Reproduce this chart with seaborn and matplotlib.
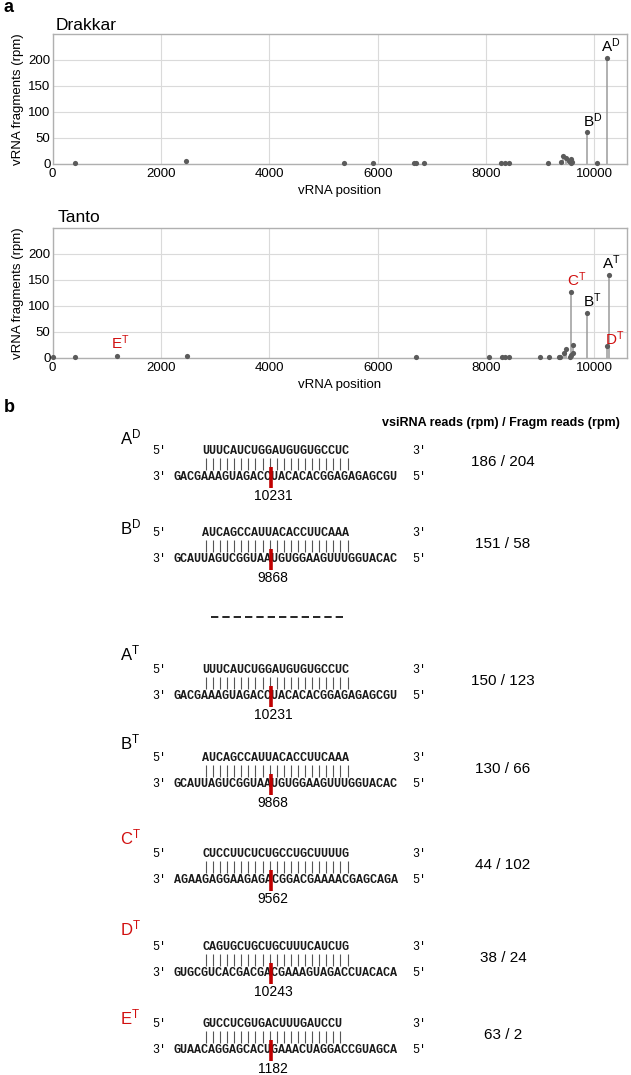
import matplotlib
matplotlib.use('Agg')
import matplotlib.pyplot as plt
import seaborn as sns
import pandas as pd

# ---- panel a: vRNA fragments along the genome ----
drakkar_pos = [410, 2460, 5375, 5905, 6670, 6700, 6860, 8280, 8350, 8415, 9150,
               9390, 9420, 9480, 9530, 9570, 9575, 9590, 9868, 10055, 10231]
drakkar_rpm = [1, 5, 1, 1, 1, 1, 1, 1, 1, 1, 1,
               4, 16, 11, 6, 9, 1, 4, 61, 1, 204]

tanto_pos = [0, 420, 1182, 2476, 6713, 8056, 8294, 8357, 8420, 8995, 9170,
             9350, 9361, 9431, 9481, 9555, 9562, 9565, 9606, 9610, 9868, 10225, 10270]
tanto_rpm = [1, 1, 3, 3, 1, 1, 1, 1, 1, 1, 1,
             1, 1, 10, 18, 2, 126, 5, 25, 10, 86, 24, 160]

drakkar_peaks = ['A', 'B']
drakkar_peak_pos = [10231, 9868]
tanto_peaks = ['A', 'B', 'C', 'D', 'E']
tanto_peak_pos = [10270, 9868, 9562, 10225, 1182]
tanto_peak_new = [False, False, True, True, True]

x_ticks = [0, 2000, 4000, 6000, 8000, 10000]
y_ticks = [0, 50, 100, 150, 200]

# ---- panel b: cleavage sites ----
site_names = ['A', 'B', 'A', 'B', 'C', 'D', 'E']
site_virus = ['D', 'D', 'T', 'T', 'T', 'T', 'T']
site_new = [False, False, False, False, True, True, True]
vsirna_seq = ['UUUCAUCUGGAUGUGUGCCUC', 'AUCAGCCAUUACACCUUCAAA',
              'UUUCAUCUGGAUGUGUGCCUC', 'AUCAGCCAUUACACCUUCAAA',
              'CUCCUUCUCUGCCUGCUUUUG', 'CAGUGCUGCUGCUUUCAUCUG',
              'GUCCUCGUGACUUUGAUCCU']
target_seq = ['GACGAAAGUAGACCUACACACGGAGAGAGCGU', 'GCAUUAGUCGGUAAUGUGGAAGUUUGGUACAC',
              'GACGAAAGUAGACCUACACACGGAGAGAGCGU', 'GCAUUAGUCGGUAAUGUGGAAGUUUGGUACAC',
              'AGAAGAGGAAGAGACGGACGAAAACGAGCAGA', 'GUGCGUCACGACGACGAAAGUAGACCUACACA',
              'GUAACAGGAGCACUGAAACUAGGACCGUAGCA']
cleavage_pos = [10231, 9868, 10231, 9868, 9562, 10243, 1182]
cut_index = [14, 14, 14, 14, 14, 14, 14]
vsirna_rpm = [186, 151, 150, 130, 44, 38, 63]
fragm_rpm = [204, 58, 123, 66, 102, 24, 2]

# layout (pixels)
W, H, DPI = 631, 1075, 100
row_top = [451, 533, 670, 758, 854, 947, 1024]
label_y = [437, 527, 653, 742, 837, 928, 1017]
RED = '#d10f0f'
BAR_RED = '#c00000'

sns.set_theme(style='whitegrid')
plt.rcParams['font.family'] = ['Liberation Sans', 'DejaVu Sans']
plt.rcParams['mathtext.default'] = 'regular'
plt.rcParams['text.color'] = 'black'
plt.rcParams['axes.labelcolor'] = 'black'
plt.rcParams['xtick.color'] = 'black'
plt.rcParams['ytick.color'] = 'black'

fig = plt.figure(figsize=(W / DPI, H / DPI), dpi=DPI)

# full figure canvas in pixel coordinates for panel b and free text
axb = fig.add_axes([0, 0, 1, 1])
axb.set_xlim(0, W)
axb.set_ylim(H, 0)
axb.set_axis_off()


def px_axes(left, top, right, bottom):
    return [left / W, 1 - bottom / H, (right - left) / W, (bottom - top) / H]


def lollipop(ax, pos, rpm, peaks, peak_pos, peak_new, virus, offsets):
    df = pd.DataFrame({'position': pos, 'rpm': rpm})
    ax.vlines(df['position'], 0, df['rpm'], color='#9b9b9b', lw=1.1, zorder=2)
    sns.scatterplot(data=df, x='position', y='rpm', ax=ax, color='#5b5b5b',
                    s=14, linewidth=0, zorder=3, clip_on=False)
    ax.set_xlim(0, 10600)
    ax.set_ylim(0, 250)
    ax.set_xticks(x_ticks)
    ax.set_yticks(y_ticks)
    ax.tick_params(labelsize=9.5, length=0, pad=3)
    ax.tick_params(axis='y', pad=1.5)
    ax.grid(color='#dadada', lw=0.8)
    for sp in ax.spines.values():
        sp.set_visible(True)
        sp.set_color('#b0b0b0')
        sp.set_linewidth(1)
    ax.set_xlabel('vRNA position', fontsize=9.5)
    ax.set_ylabel('vRNA fragments (rpm)', fontsize=9.5)
    ax.xaxis.set_label_coords(0.5, -0.165)
    ax.yaxis.set_label_coords(-0.05, 0.5)
    for name, p, new in zip(peaks, peak_pos, peak_new):
        y = df.loc[df['position'] == p, 'rpm'].iloc[0]
        dx, dy = offsets[name]
        ax.annotate(f'{name}$^{{{virus}}}$', (p, y), xytext=(dx, dy),
                    textcoords='offset pixels', ha='center', va='center',
                    fontsize=11, color=RED if new else 'black')


ax1 = fig.add_axes(px_axes(52.5, 34, 627, 164))
lollipop(ax1, drakkar_pos, drakkar_rpm, drakkar_peaks, drakkar_peak_pos,
         [False, False], 'D', {'A': (4, 12), 'B': (5, 12)})

ax2 = fig.add_axes(px_axes(52.5, 228, 627, 358))
lollipop(ax2, tanto_pos, tanto_rpm, tanto_peaks, tanto_peak_pos,
         tanto_peak_new, 'T',
         {'A': (2, 12), 'B': (5, 13), 'C': (6, 13), 'D': (8, 7), 'E': (4, 14)})

axb.text(4, 8, 'a', fontsize=13, fontweight='bold', va='center')
axb.text(4, 408, 'b', fontsize=13, fontweight='bold', va='center')
axb.text(56, 25, 'Drakkar', fontsize=12.5, va='center')
axb.text(58, 218, 'Tanto', fontsize=12.5, va='center')
axb.text(501, 423, 'vsiRNA reads (rpm) / Fragm reads (rpm)', fontsize=9,
         fontweight='bold', ha='center', va='center')

mono = ['Liberation Mono', 'DejaVu Sans Mono']
seq_fs = 8.5
cw = 0.6 * seq_fs * DPI / 72
x_prime_l = 152.5
x_seq = 174
x_prime_r = 412
seq_kw = dict(family=mono, fontsize=seq_fs, fontweight='bold', va='center', color='#1a1a1a')
prime_kw = dict(family=mono, fontsize=seq_fs, va='center')

for i in range(len(site_names)):
    y0 = row_top[i]
    y1 = y0 + 26
    color = RED if site_new[i] else 'black'
    axb.text(120, label_y[i], f'{site_names[i]}$^{{{site_virus[i]}}}$',
             fontsize=12, color=color, va='center', ha='left')
    # vsiRNA strand
    axb.text(x_prime_l, y0, '5\u2032', **prime_kw)
    axb.text(x_seq + 4 * cw, y0, vsirna_seq[i], **seq_kw)
    axb.text(x_prime_r, y0, '3\u2032', **prime_kw)
    # base pairs
    xs = [x_seq + (4 + k + 0.5) * cw for k in range(len(vsirna_seq[i]))]
    axb.vlines(xs, y0 + 7, y0 + 19, color='#555555', lw=0.8)
    # target strand
    axb.text(x_prime_l, y1, '3\u2032', **prime_kw)
    axb.text(x_seq, y1, target_seq[i], **seq_kw)
    axb.text(x_prime_r, y1, '5\u2032', **prime_kw)
    # cleavage site
    xc = x_seq + (cut_index[i] - 0.3) * cw
    axb.vlines(xc, y0 + 16, y0 + 37, color=BAR_RED, lw=2.6, zorder=5)
    axb.text(xc + 2, y0 + 45, str(cleavage_pos[i]), fontsize=10,
             ha='center', va='center')
    axb.text(503, y0 + 11, f'{vsirna_rpm[i]} / {fragm_rpm[i]}', fontsize=11,
             ha='center', va='center')

axb.plot([211, 343], [617, 617], color='black', lw=1.2, dashes=(4.4, 2.4))

fig.savefig('out.png', dpi=DPI)
